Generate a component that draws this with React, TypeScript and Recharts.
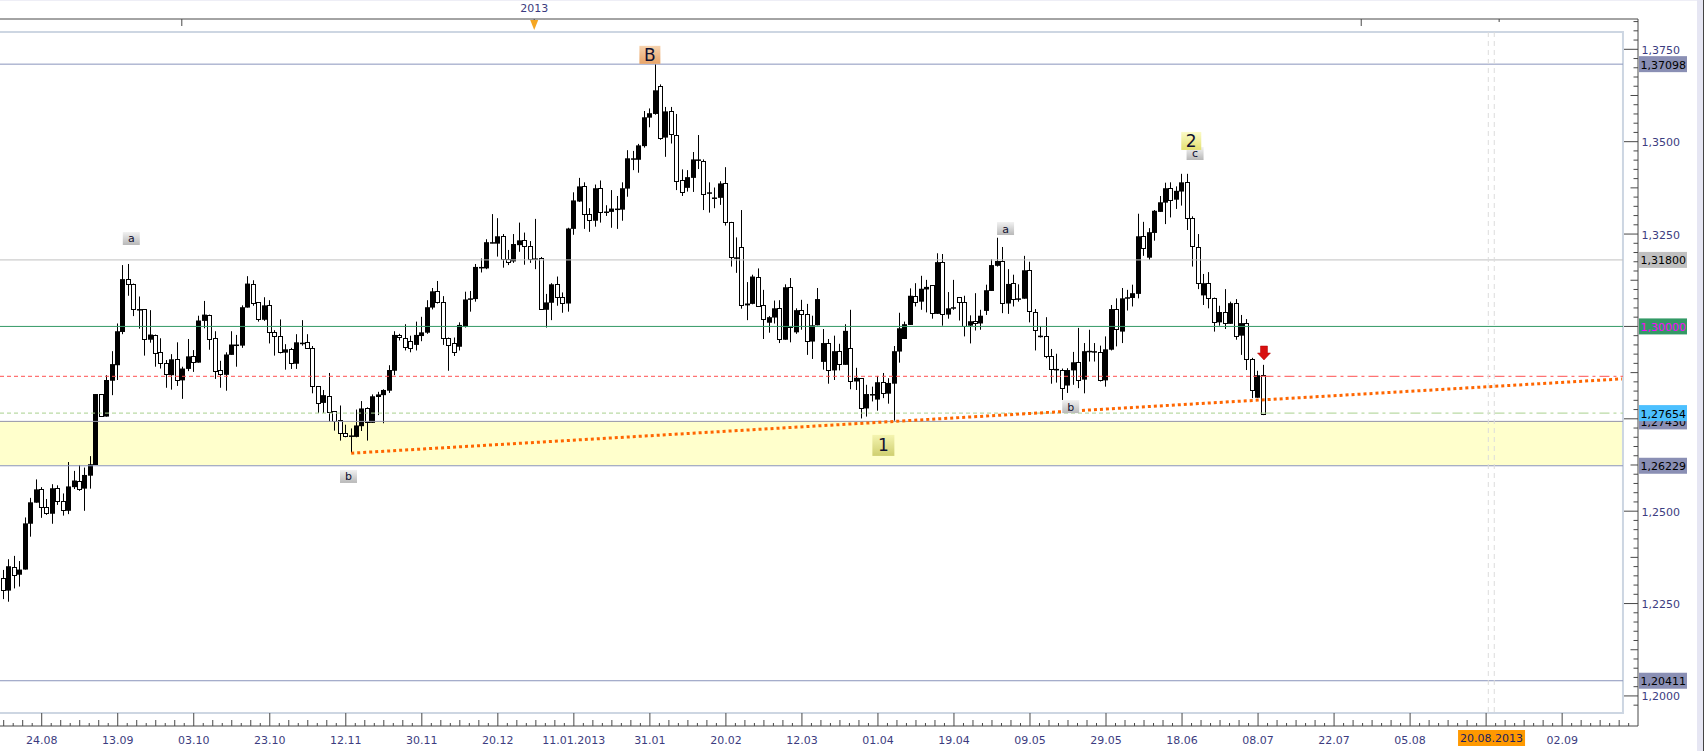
import React from 'react';
import { ComposedChart, Bar, XAxis, YAxis, ReferenceLine, ReferenceArea, ReferenceDot } from 'recharts';

// Prices in 1/10000 units, one entry per trading day (index 0 = first candle on the left)
const opens = [
12318,12285,12350,12328,12342,12466,12523,12559,12510,12493,
12562,12527,12501,12565,12583,12561,12596,12625,12817,12756,
12853,12895,12985,13127,13114,13045,13046,12964,12978,12930,
12900,12868,12911,12854,12885,12919,12902,13015,13032,12968,
12881,12869,12923,12948,12948,13051,13116,13065,13018,13057,
12984,12973,12929,12938,12899,12954,12957,12941,12838,12793,
12813,12770,12746,12712,12701,12701,12730,12778,12739,12809,
12814,12826,12880,12976,12970,12960,12950,12974,12983,13051,
13095,13065,12968,12955,12945,12999,13072,13074,13159,13157,
13225,13224,13244,13183,13176,13220,13233,13217,13182,13184,
13045,13064,13114,13079,13062,13264,13338,13379,13303,13286,
13374,13309,13310,13317,13316,13373,13451,13451,13488,13565,
13575,13652,13511,13582,13519,13395,13375,13402,13448,13449,
13359,13346,13348,13387,13282,13185,13214,13057,13061,13135,
13057,13010,13024,13049,12964,13106,12984,13044,13033,12959,
13003,12904,12955,12881,12933,12896,12941,12851,12860,12778,
12813,12802,12849,12818,12845,12932,12966,13004,13082,13067,
13100,13112,13034,13174,13032,13048,13079,13066,13002,13014,
13008,13042,13096,13164,13177,13062,13117,13073,13075,13152,
13040,12971,12974,12919,12882,12882,12840,12881,12903,12856,
12932,12930,12930,12854,12937,13047,12986,13076,13077,13088,
13244,13186,13253,13310,13335,13374,13343,13365,13390,13293,
13216,13084,13117,13076,13011,13039,13007,13063,12975,13009,
12911,12807,12868];
const closes = [
12285,12351,12328,12342,12467,12524,12559,12510,12493,12562,
12526,12502,12567,12583,12562,12598,12627,12817,12757,12855,
12898,12987,13128,13113,13046,13047,12965,12978,12929,12900,
12869,12911,12854,12886,12919,12903,13016,13032,12967,12880,
12869,12924,12951,12951,13052,13116,13064,13019,13057,12983,
12972,12929,12938,12899,12957,12956,12940,12837,12793,12814,
12770,12744,12712,12703,12705,12732,12778,12739,12811,12816,
12828,12882,12977,12970,12945,12940,12977,12984,13052,13095,
13064,12968,12950,12930,13004,13073,13076,13161,13161,13228,
13228,13244,13183,13175,13223,13233,13216,13183,13184,13046,
13065,13114,13079,13062,13265,13341,13379,13303,13286,13374,
13310,13311,13319,13319,13374,13455,13455,13490,13566,13577,
13639,13511,13582,13520,13395,13363,13404,13452,13452,13359,
13363,13349,13387,13281,13186,13187,13057,13062,13135,13056,
13019,13025,13049,12964,13106,12998,13044,13033,12960,13003,
13074,12955,12881,12933,12897,12988,12851,12861,12778,12817,
12817,12849,12819,12847,12933,12995,13006,13083,13067,13102,
13107,13035,13174,13032,13049,13052,13066,13000,13014,13008,
13029,13098,13166,13177,13062,13115,13073,13076,13152,13040,
12990,12975,12919,12884,12885,12832,12882,12903,12855,12933,
12934,12933,12855,12938,13047,12994,13076,13079,13090,13244,
13211,13255,13313,13336,13374,13342,13367,13390,13293,13216,
13119,13117,13076,13011,13039,13009,13063,12975,13009,12911,
12827,12868,12763];
const highs = [
12341,12370,12379,12365,12483,12536,12586,12565,12533,12573,
12570,12548,12633,12609,12625,12618,12649,12817,12817,12868,
12933,13008,13166,13169,13116,13081,13046,13044,12978,12968,
12909,12925,12957,12891,12966,12936,13029,13069,13032,12987,
12907,12930,12987,12977,13057,13136,13125,13065,13079,13071,
12990,13019,12952,12942,12979,13017,12979,12947,12838,12828,
12874,12770,12786,12734,12724,12775,12798,12781,12816,12823,
12830,12895,12987,12980,13006,12975,13013,13026,13071,13104,
13123,13082,12970,12970,13011,13094,13096,13169,13184,13236,
13304,13293,13250,13207,13250,13281,13254,13231,13291,13188,
13088,13117,13135,13092,13267,13363,13402,13390,13320,13384,
13395,13328,13369,13353,13390,13477,13475,13494,13583,13590,
13710,13655,13594,13594,13575,13425,13423,13472,13518,13452,
13390,13376,13393,13431,13283,13241,13315,13120,13140,13157,
13099,13028,13070,13071,13114,13131,13049,13072,13061,13029,
13104,12993,12966,12975,12953,13006,13045,12888,12860,12842,
12837,12866,12874,12860,12947,13037,13013,13103,13117,13137,
13126,13112,13198,13196,13093,13126,13079,13083,13030,13090,
13045,13113,13182,13240,13215,13155,13140,13114,13191,13175,
13047,13000,13025,12939,12926,12886,12887,12931,12996,12955,
12991,12955,12948,12973,13058,13076,13104,13099,13113,13305,
13283,13266,13315,13353,13389,13390,13379,13413,13413,13298,
13250,13142,13147,13078,13056,13101,13067,13074,13031,13020,
12915,12880,12896];
const lows = [
12262,12255,12291,12296,12342,12431,12523,12482,12490,12466,
12517,12488,12492,12560,12555,12501,12561,12625,12755,12756,
12814,12855,12979,13083,13028,12994,12921,12956,12891,12886,
12834,12829,12839,12804,12879,12877,12902,12995,12937,12858,
12834,12826,12923,12891,12942,13051,13056,13013,13015,12954,
12921,12927,12883,12885,12885,12948,12940,12819,12766,12766,
12742,12718,12691,12700,12658,12700,12717,12691,12739,12760,
12738,12820,12868,12962,12935,12930,12935,12960,12980,13046,
13062,12950,12880,12920,12935,12997,13040,13067,13146,13155,
13225,13189,13159,13166,13172,13202,13167,13172,13155,13046,
12997,13017,13056,13037,13040,13248,13337,13264,13256,13270,
13281,13299,13267,13264,13286,13351,13423,13416,13484,13539,
13573,13505,13459,13495,13369,13353,13365,13364,13426,13315,
13308,13320,13329,13273,13162,13145,13048,13017,13060,13053,
12966,12983,13008,12955,12964,12957,12980,12991,12923,12912,
13003,12883,12845,12855,12881,12896,12830,12828,12751,12756,
12797,12772,12806,12791,12745,12902,12966,13004,13054,13045,
13038,13021,13034,13002,13021,13045,13016,12973,12954,12989,
12991,13031,13096,13162,13036,13034,13054,13067,13075,13011,
12935,12970,12914,12845,12848,12801,12820,12842,12833,12819,
12905,12905,12851,12837,12935,12946,12955,13043,13054,13076,
13191,13180,13232,13310,13277,13295,13318,13327,13261,13162,
13101,13058,13049,12986,13002,12993,13007,12964,12923,12882,
12806,12807,12760];

const dateLabels = ['24.08','13.09','03.10','23.10','12.11','30.11','20.12','11.01.2013','31.01','20.02','12.03','01.04','19.04','09.05','29.05','18.06','08.07','22.07','05.08','','02.09'];
const axisPriceValues = [13750,13500,13250,12500,12250,12000];
const axisPriceLabels = ['1,3750','1,3500','1,3250','1,2500','1,2250','1,2000'];

const levelPrices = [1.37098,1.318,1.3,1.2743,1.27654,1.26229,1.20411];
const levelLabels = ['1,37098','1,31800','1,30000','1,27430','1,27654','1,26229','1,20411'];
const levelFills = ['#8a8fb4','#c0c0c0','#339966','#8a8fb4','#4cc0ff','#8a8fb4','#8a8fb4'];
const levelTexts = ['#000','#000','#ff00ff','#000','#000','#000','#000'];

const noteTexts = ['a','a','b','b','c','2','B','1'];
const noteIndex = [23.5,184.5,63.5,196.5,219.4,218.7,119,162];
const notePrices = [1.3238,1.3265,1.2594,1.2783,1.3468,1.3502,1.3735,1.2678];
const noteTones = ['grey','grey','grey','grey','grey','yellow','orange','olive'];

const candles = opens.map((o, i) => ({
  i,
  open: o / 10000,
  close: closes[i] / 10000,
  high: highs[i] / 10000,
  low: lows[i] / 10000,
}));

const X_MIN = -0.68, X_MAX = 300.97, X_FRAME = 298.2, LAST = 232;
const Y_MIN = 1.19186, Y_MAX = 1.3832, Y_FRAME_TOP = 1.37968, Y_FRAME_BOTTOM = 1.19538;
const FONT = '"DejaVu Sans", sans-serif';
const INK = '#3c3c80', AXIS = '#484848';

const priceTicks: number[] = [];
for (let p = 11975; p <= 13825; p += 25) priceTicks.push(p / 10000);

const dateTicks: number[] = [];
for (let k = -4; k < 168; k++) { const t = 7 + k * 1.75; if (t <= 300) dateTicks.push(t); }
const topTicks = [32.8, 97.7, 250, 275.4];

function Candle(props: any) {
  const { x, y, width, height, payload } = props;
  const xc = Math.round(x + width / 2 - 0.5);
  const span = payload.high - payload.low || 1;
  const top = Math.max(payload.open, payload.close);
  const bottom = Math.min(payload.open, payload.close);
  const y1 = y + ((payload.high - top) / span) * height;
  const y2 = y + ((payload.high - bottom) / span) * height;
  const rising = payload.close >= payload.open;
  return (
    <g>
      <rect x={xc} y={y} width={1} height={height} fill="#000" />
      {rising ? (
        <rect x={xc - 2} y={y1} width={5} height={Math.max(y2 - y1, 1.5)} fill="#000" />
      ) : (
        <rect x={xc - 1.5} y={Math.round(y1) + 0.5} width={4} height={Math.max(Math.round(y2 - y1), 1)} fill="#fff" stroke="#000" strokeWidth={1} />
      )}
    </g>
  );
}

function PriceTick(props: any) {
  const { x, y, payload } = props;
  const p = Math.round(payload.value * 10000);
  const len = p % 250 === 0 ? 14 : p % 125 === 0 ? 7.5 : 4.5;
  const at = axisPriceValues.indexOf(p);
  return (
    <g>
      <line x1={x - len} x2={x} y1={y} y2={y} stroke={AXIS} strokeWidth={1} />
      {at >= 0 && (
        <text x={x + 3.5} y={y + 4.5} fontFamily={FONT} fontSize={11} fill={INK}>{axisPriceLabels[at]}</text>
      )}
    </g>
  );
}

function DateTick(props: any) {
  const { x, y, payload } = props;
  const step = Math.round((payload.value - 7) / 1.75);
  const major = ((step % 8) + 8) % 8 === 0;
  const medium = ((step % 2) + 2) % 2 === 0;
  const len = major ? 13 : medium ? 6 : 3;
  const label = major ? dateLabels[step / 8] : undefined;
  return (
    <g>
      <line x1={x} x2={x} y1={y} y2={y - len} stroke={AXIS} strokeWidth={1} />
      {label && (
        <text x={x} y={y + 18} textAnchor="middle" fontFamily={FONT} fontSize={11} fill={INK}>{label}</text>
      )}
    </g>
  );
}

function TopTick(props: any) {
  const { x, y, payload } = props;
  const year = payload.value === 97.7;
  const len = payload.value === 275.4 ? 3 : 7;
  return (
    <g>
      <line x1={x} x2={x} y1={y} y2={y + len} stroke={AXIS} strokeWidth={1} />
      {year && (
        <>
          <text x={x} y={y - 7} textAnchor="middle" fontFamily={FONT} fontSize={11} fill={INK}>2013</text>
          <path d={`M${x - 4} ${y + 1} L${x + 4} ${y + 1} L${x} ${y + 11} Z`} fill="#f5a623" />
        </>
      )}
    </g>
  );
}

function LevelTag(props: any) {
  const { cx, cy, text, bg, ink } = props;
  return (
    <g>
      <rect x={cx + 1} y={cy - 8} width={48} height={16} fill={bg} />
      <text x={cx + 2.5} y={cy + 4.5} fontFamily={FONT} fontSize={11} fill={ink}>{text}</text>
    </g>
  );
}

const toneStops: any = {
  grey: ['#f2f2f2', '#b8b8b8', 17, 13, 11, 7, 4],
  yellow: ['#fbfbc8', '#e4e070', 20, 18, 17, 9, 6],
  orange: ['#f6d2ae', '#e8a468', 21, 18, 17, 9, 6],
  olive: ['#f4f4b0', '#cfcf70', 22, 21, 17, 9, 6],
};

function Note(props: any) {
  const { cx, cy, text, tone, id } = props;
  const [a, b, w, h, fs, , base] = toneStops[tone];
  return (
    <g>
      <defs>
        <linearGradient id={id} x1="0" y1="0" x2="0" y2="1">
          <stop offset="0" stopColor={a} />
          <stop offset="1" stopColor={b} />
        </linearGradient>
      </defs>
      <rect x={cx - w / 2} y={cy - h / 2} width={w} height={h} fill={`url(#${id})`} />
      <text x={cx} y={cy + base} textAnchor="middle" fontFamily={FONT} fontSize={fs} fill="#101030">{text}</text>
    </g>
  );
}

function DownArrow(props: any) {
  const { cx, cy } = props;
  return (
    <path
      d={`M${cx - 3} ${cy - 7} H${cx + 4} V${cy} H${cx + 7} L${cx + 0.5} ${cy + 7} L${cx - 6} ${cy} H${cx - 3} Z`}
      fill="#d81010"
      stroke="#b00000"
      strokeWidth={0.5}
    />
  );
}

const axisIds = { xAxisId: 'bottom', yAxisId: 'price' };
const lineColors = ['#8a94bc', '#c0c0c0', '#339966', '#9494a8', '', '#8a94bc', '#8a94bc'];

export default function App() {
  return (
    <div style={{ position: 'absolute', left: 0, top: 0, width: 1704, height: 751, background: '#fff', overflow: 'hidden' }}>
      <div style={{ position: 'absolute', left: 0, top: 0, width: 1704, height: 1, background: '#eeeef6' }} />
      <div style={{ position: 'absolute', left: 1697, top: 0, width: 6, height: 751, background: '#e6e6f3' }} />
      <div style={{ position: 'absolute', left: 1703, top: 0, width: 1, height: 751, background: '#444' }} />
      <ComposedChart
        width={1704}
        height={751}
        data={candles}
        margin={{ top: 0, right: 0, bottom: 0, left: 0 }}
        style={{ position: 'absolute', left: 0, top: 0 }}
      >
        <XAxis
          xAxisId="bottom"
          dataKey="i"
          type="number"
          domain={[X_MIN, X_MAX]}
          allowDataOverflow
          ticks={dateTicks}
          interval={0}
          tick={<DateTick />}
          tickLine={false}
          tickSize={0}
          tickMargin={0}
          axisLine={{ stroke: AXIS }}
          height={25}
        />
        <XAxis
          xAxisId="top"
          orientation="top"
          dataKey="i"
          type="number"
          domain={[X_MIN, X_MAX]}
          allowDataOverflow
          ticks={topTicks}
          interval={0}
          tick={<TopTick />}
          tickLine={false}
          tickSize={0}
          tickMargin={0}
          axisLine={{ stroke: AXIS }}
          height={19}
        />
        <YAxis
          yAxisId="price"
          orientation="right"
          type="number"
          domain={[Y_MIN, Y_MAX]}
          allowDataOverflow
          ticks={priceTicks}
          interval={0}
          tick={<PriceTick />}
          tickLine={false}
          tickSize={0}
          tickMargin={0}
          axisLine={{ stroke: AXIS }}
          width={66}
        />

        <ReferenceArea {...axisIds} x1={X_MIN} x2={X_FRAME} y1={levelPrices[5]} y2={levelPrices[3]} fill="#ffffcc" fillOpacity={1} stroke="none" ifOverflow="visible" />
        <ReferenceArea {...axisIds} x1={-3} x2={X_FRAME} y1={Y_FRAME_BOTTOM} y2={Y_FRAME_TOP} fill="none" stroke="#cdd6e2" strokeWidth={2} ifOverflow="visible" />

        <Bar {...axisIds} dataKey={(d: any) => [d.low, d.high]} barSize={5} isAnimationActive={false} shape={<Candle />} />

        {[0, 1, 2, 3, 5, 6].map((n) => (
          <ReferenceLine
            key={n}
            {...axisIds}
            ifOverflow="visible"
            segment={[{ x: X_MIN, y: levelPrices[n] }, { x: X_FRAME, y: levelPrices[n] }]}
            stroke={lineColors[n]}
            strokeWidth={1}
          />
        ))}

        <ReferenceLine {...axisIds} ifOverflow="visible" segment={[{ x: X_MIN, y: 1.2865 }, { x: LAST, y: 1.2865 }]} stroke="#ff5050" strokeDasharray="4 3" />
        <ReferenceLine {...axisIds} ifOverflow="visible" segment={[{ x: LAST, y: 1.2865 }, { x: X_FRAME, y: 1.2865 }]} stroke="#ff5050" strokeDasharray="10 4 3 4" />
        <ReferenceLine {...axisIds} ifOverflow="visible" segment={[{ x: X_MIN, y: levelPrices[4] }, { x: LAST, y: levelPrices[4] }]} stroke="#a8d08d" strokeDasharray="4 3" />
        <ReferenceLine {...axisIds} ifOverflow="visible" segment={[{ x: LAST, y: levelPrices[4] }, { x: X_FRAME, y: levelPrices[4] }]} stroke="#a8d08d" strokeDasharray="10 4 3 4" />

        <ReferenceLine {...axisIds} ifOverflow="visible" segment={[{ x: 273.4, y: Y_FRAME_TOP }, { x: 273.4, y: Y_FRAME_BOTTOM }]} stroke="#dcdcdc" strokeDasharray="5 4" />
        <ReferenceLine {...axisIds} ifOverflow="visible" segment={[{ x: 274.5, y: Y_FRAME_TOP }, { x: 274.5, y: Y_FRAME_BOTTOM }]} stroke="#dcdcdc" strokeDasharray="5 4" />

        <ReferenceLine {...axisIds} ifOverflow="visible" segment={[{ x: 64, y: 1.2657 }, { x: 298, y: 1.2858 }]} stroke="#ff6600" strokeWidth={3} strokeDasharray="3 3" />

        {levelPrices.map((v, n) => (
          <ReferenceDot
            key={levelLabels[n]}
            {...axisIds}
            x={X_MAX}
            y={v}
            ifOverflow="visible"
            shape={<LevelTag text={levelLabels[n]} bg={levelFills[n]} ink={levelTexts[n]} />}
          />
        ))}

        {noteTexts.map((t, n) => (
          <ReferenceDot
            key={n}
            {...axisIds}
            x={noteIndex[n]}
            y={notePrices[n]}
            ifOverflow="visible"
            shape={<Note text={t} tone={noteTones[n]} id={`note-${n}`} />}
          />
        ))}

        <ReferenceDot {...axisIds} x={232} y={1.2928} ifOverflow="visible" shape={<DownArrow />} />

        <ReferenceDot
          {...axisIds}
          x={274}
          y={Y_MIN}
          ifOverflow="visible"
          shape={(p: any) => (
            <g>
              <rect x={p.cx - 33.5} y={p.cy + 4} width={67} height={16} fill="#ff9900" />
              <text x={p.cx} y={p.cy + 16} textAnchor="middle" fontFamily={FONT} fontSize={11} fill="#202060">20.08.2013</text>
            </g>
          )}
        />
      </ComposedChart>
    </div>
  );
}
